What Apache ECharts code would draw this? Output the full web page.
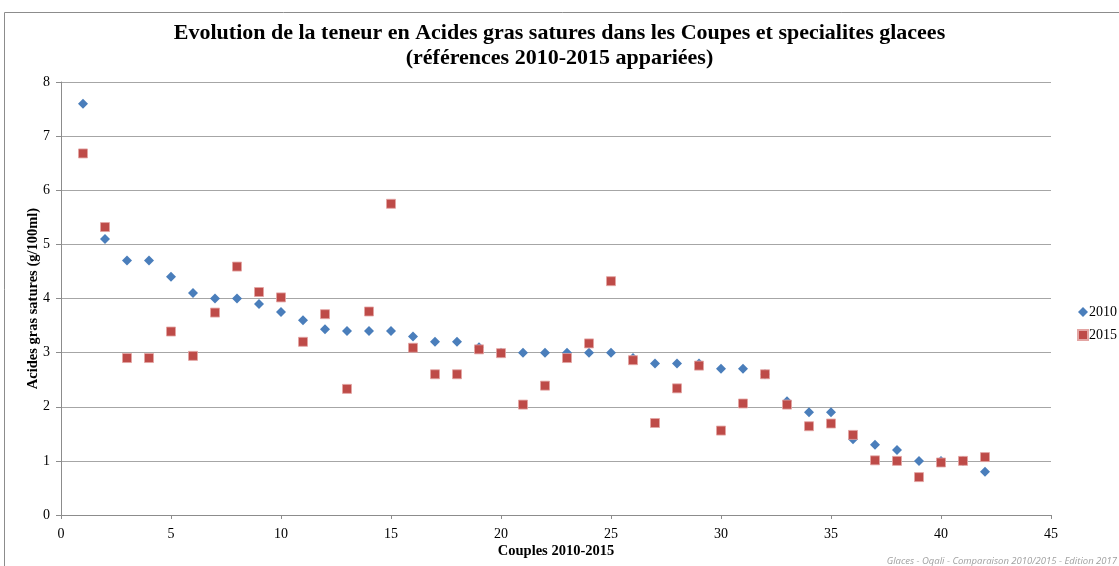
<!DOCTYPE html>
<html><head><meta charset="utf-8">
<script src="https://cdn.jsdelivr.net/npm/echarts@6/dist/echarts.min.js"></script>
<style>html,body{margin:0;padding:0;background:#fff}#c{width:1119px;height:566px}</style>
</head><body><div id="c"></div>
<script>
const couples = [1,2,3,4,5,6,7,8,9,10,11,12,13,14,15,16,17,18,19,20,21,22,23,24,25,26,27,28,29,30,31,32,33,34,35,36,37,38,39,40,41,42];
const values2010 = [7.6,5.1,4.7,4.7,4.4,4.1,4.0,4.0,3.9,3.75,3.6,3.43,3.4,3.4,3.4,3.3,3.2,3.2,3.1,3.0,3.0,3.0,3.0,3.0,3.0,2.9,2.8,2.8,2.8,2.7,2.7,2.6,2.1,1.9,1.9,1.4,1.3,1.2,1.0,1.0,1.0,0.8];
const values2015 = [6.68,5.32,2.9,2.9,3.39,2.94,3.74,4.59,4.12,4.02,3.2,3.71,2.33,3.76,5.75,3.09,2.6,2.6,3.06,2.99,2.04,2.39,2.9,3.17,4.32,2.86,1.7,2.34,2.76,1.56,2.06,2.6,2.04,1.64,1.69,1.48,1.01,1.0,0.7,0.97,1.0,1.07];
const seriesNames = ['2010','2015'];
const titleText = 'Evolution de la teneur en Acides gras satures dans les Coupes et specialites glacees\n(références 2010-2015 appariées)';
const xName = 'Couples 2010-2015';
const yName = 'Acides gras satures (g/100ml)';
const footer = 'Glaces - Oqali - Comparaison 2010/2015 - Edition 2017';

const serif = '"Liberation Serif", "DejaVu Serif", serif';
const chart = echarts.init(document.getElementById('c'));
chart.setOption({
  animation: false,
  backgroundColor: '#fff',
  title: {
    text: titleText, left: 'center', top: 16,
    textStyle: { fontFamily: serif, fontWeight: 'bold', fontSize: 22, lineHeight: 25, color: '#000' }
  },
  graphic: [
    { type: 'rect', shape: { x: 4.5, y: 12.5, width: 1200, height: 600 }, style: { fill: 'none', stroke: '#8c8c8c', lineWidth: 1 }, silent: true },
    { type: 'text', right: 2, bottom: 0, style: { text: footer, fontFamily: '"Open Sans", sans-serif', fontStyle: 'italic', fontSize: 9.5, fill: '#a0a0a0' } }
  ],
  legend: {
    orient: 'vertical', left: 1072, top: 300, itemGap: 9, itemWidth: 10, itemHeight: 10,
    textStyle: { fontFamily: serif, fontSize: 14, color: '#000', padding: [0,0,0,-4] },
    data: [ { name: '2010', icon: 'diamond' }, { name: '2015', icon: 'rect' } ]
  },
  grid: { left: 61, right: 68, top: 82, bottom: 51, containLabel: false },
  xAxis: {
    type: 'value', min: 0, max: 45, interval: 5,
    name: xName, nameLocation: 'middle', nameGap: 29, nameMoveOverlap: false,
    nameTextStyle: { fontFamily: serif, fontWeight: 'bold', fontSize: 14.5, color: '#000' },
    axisLine: { show: true, lineStyle: { color: '#8c8c8c' } },
    axisTick: { show: true, length: 4, lineStyle: { color: '#8c8c8c' } },
    axisLabel: { fontFamily: serif, fontSize: 14, color: '#000', margin: 12 },
    splitLine: { show: false }
  },
  yAxis: {
    type: 'value', min: 0, max: 8, interval: 1,
    name: yName, nameLocation: 'middle', nameGap: 20, nameMoveOverlap: false,
    nameTextStyle: { fontFamily: serif, fontWeight: 'bold', fontSize: 14.5, color: '#000' },
    axisLine: { show: true, lineStyle: { color: '#8c8c8c' } },
    axisTick: { show: true, length: 5, lineStyle: { color: '#8c8c8c' } },
    axisLabel: { fontFamily: serif, fontSize: 14, color: '#000', margin: 11 },
    splitLine: { show: true, lineStyle: { color: '#a6a6a6', width: 1 } }
  },
  series: [
    { name: seriesNames[0], type: 'scatter', symbol: 'diamond', symbolSize: 10,
      itemStyle: { color: '#4a7ebb', opacity: 1 }, data: couples.map((c, i) => [c, values2010[i]]) },
    { name: seriesNames[1], type: 'scatter', symbol: 'rect', symbolSize: 9,
      itemStyle: { color: '#be4b48', borderColor: '#e3a5a3', borderWidth: 0.8, opacity: 1 }, data: couples.map((c, i) => [c, values2015[i]]) }
  ]
});
</script></body></html>
